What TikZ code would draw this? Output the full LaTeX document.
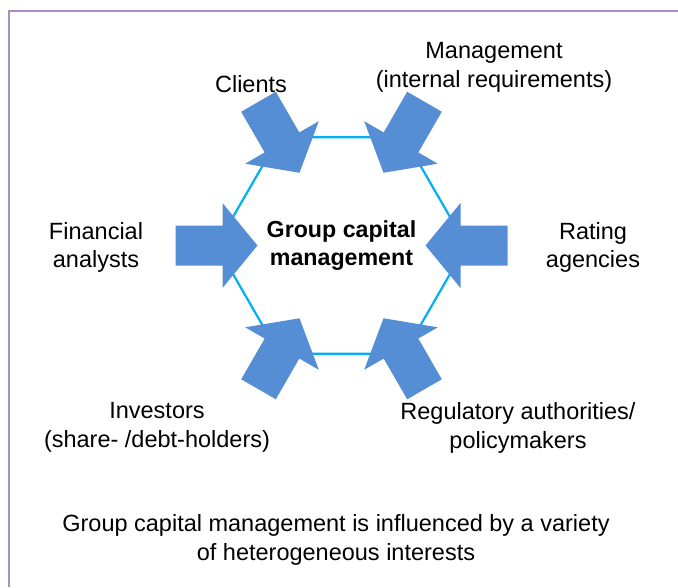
\documentclass[tikz,border=0pt]{standalone}
\usepackage{fontspec}
\setmainfont{Liberation Sans}
\definecolor{arrowblue}{RGB}{85,142,213}
\definecolor{hexcyan}{RGB}{0,176,240}
\definecolor{framepurple}{RGB}{170,140,200}
\begin{document}
\begin{tikzpicture}[x=1pt,y=-1pt,
  lbl/.style={align=center,font=\fontsize{23.5}{28.5}\selectfont,inner sep=0pt},
  bigarrow/.style={fill=arrowblue}]
\useasboundingbox (0,0) rectangle (678,587);
\draw[framepurple,line width=1.2pt] (9,587) -- (9,11) -- (678,11);
\coordinate (c) at (341.5,245.5);
\draw[hexcyan,line width=2.2pt,shift={(c)}] (0:125) -- (60:125) -- (120:125) -- (180:125) -- (240:125) -- (300:125) -- cycle;
\foreach \a in {0,60,...,300}
  \fill[bigarrow,shift={(c)},rotate=\a] (84,0) -- (119,42.5) -- (119,20) -- (166,20) -- (166,-20) -- (119,-20) -- (119,-42.5) -- cycle;
\node[lbl,font=\fontsize{23.2}{27.5}\selectfont\bfseries] (center) at (c) {Group capital\\management};
\node[lbl] (clients) at (251,84) {Clients};
\node[lbl] (mgmt) at (494,67.5) {Management\\(internal requirements)};
\node[lbl] (fin) at (96,247.5) {Financial\\analysts};
\node[lbl] (rating) at (593,247.5) {Rating\\agencies};
\node[lbl] (inv) at (157,427.5) {Investors\\(share- /debt-holders)};
\node[lbl] (reg) at (518,428) {Regulatory authorities/\\policymakers};
\node[lbl] (cap) at (336,540) {Group capital management is influenced by a variety\\of heterogeneous interests};
\end{tikzpicture}
\end{document}
